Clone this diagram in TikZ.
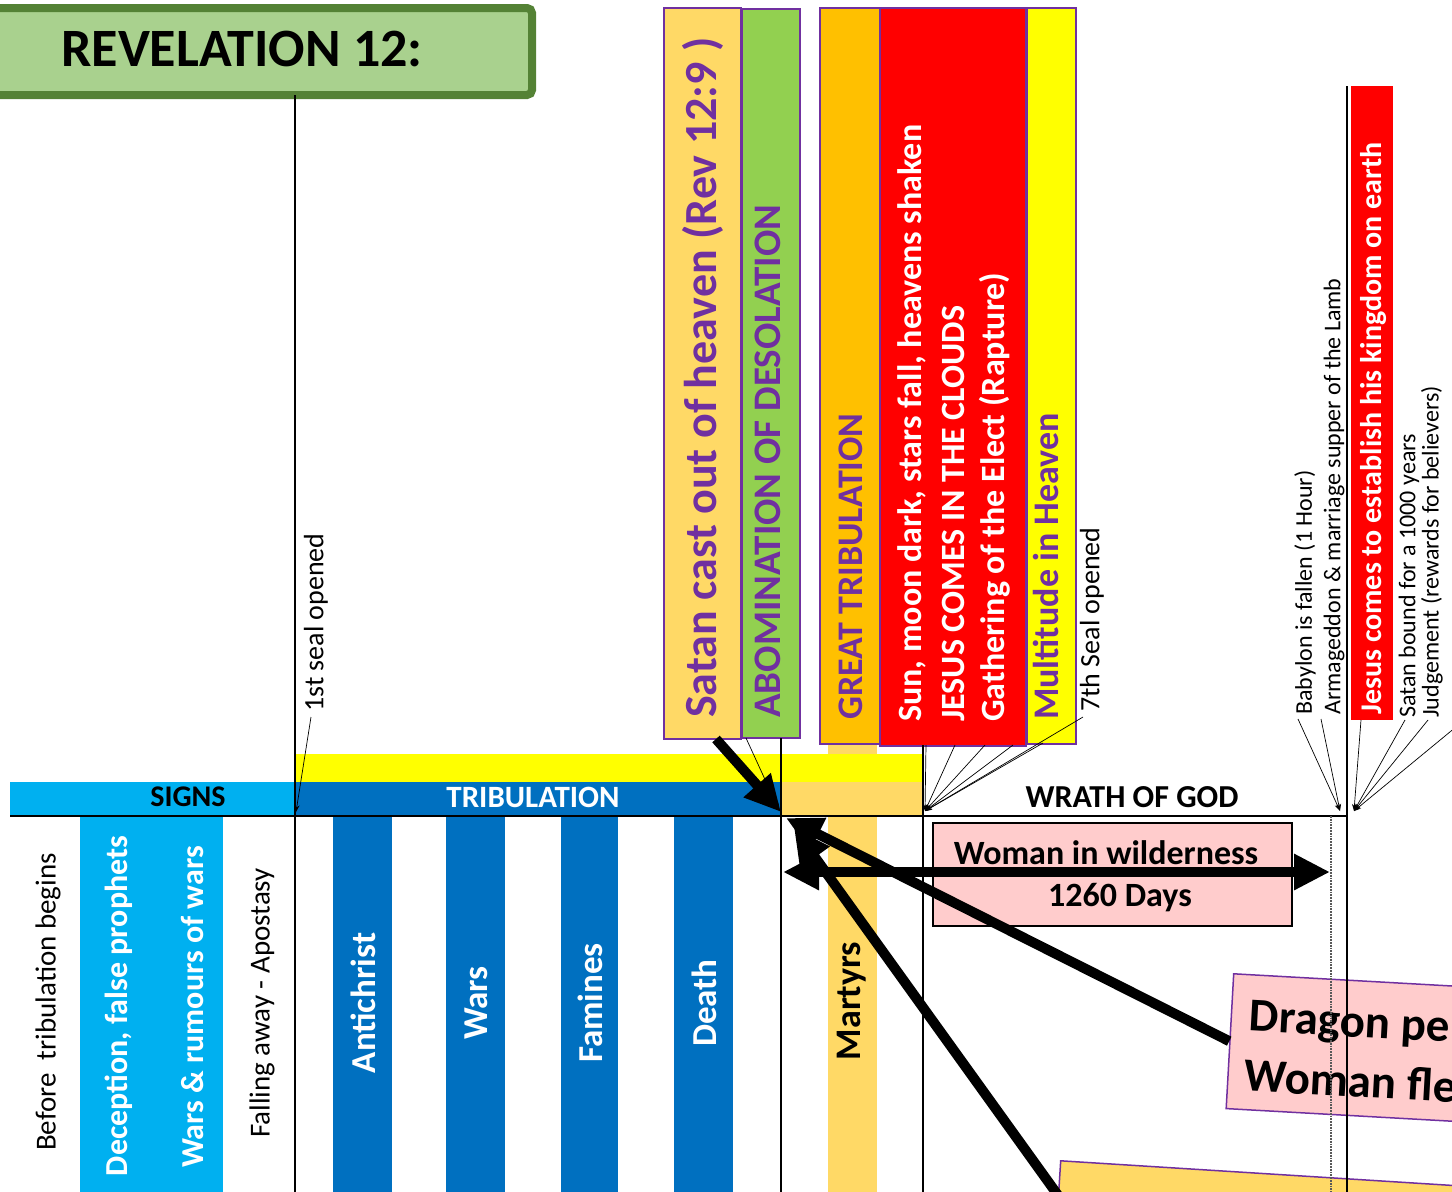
\documentclass[tikz,border=0pt]{standalone}
\usepackage{fontspec}
\setmainfont{Carlito}
\usetikzlibrary{arrows.meta}
\definecolor{tgreen}{HTML}{A9D18E}
\definecolor{tgreenb}{HTML}{548235}
\definecolor{cyanb}{HTML}{00B0F0}
\definecolor{blueb}{HTML}{0070C0}
\definecolor{lorange}{HTML}{FFD966}
\definecolor{orangeb}{HTML}{FFC000}
\definecolor{greenb}{HTML}{92D050}
\definecolor{purp}{HTML}{7030A0}
\definecolor{redb}{HTML}{FF0000}
\definecolor{yellowb}{HTML}{FFFF00}
\definecolor{pinkb}{HTML}{FFCCCC}
\newcommand{\fsz}[1]{\fontsize{#1}{#1}\selectfont}
\tikzset{
  vtxt/.style={rotate=90, inner sep=0pt, anchor=west},
  ctxt/.style={rotate=90, inner sep=0pt},
  topbox/.style={draw=purp, line width=1.5pt, anchor=north west, inner sep=0pt},
  vline/.style={line width=1.8pt, black},
  fan/.style={line width=0.7pt, -{Stealth[length=7pt,width=5pt]}},
  bigarrow/.style={line width=10pt, -{Triangle[length=36pt,width=34pt]}},
  bigdbl/.style={line width=10pt, {Triangle[length=36pt,width=34pt]}-{Triangle[length=36pt,width=34pt]}},
}
\begin{document}
\begin{tikzpicture}[x=1pt,y=-1pt]
\useasboundingbox (0,0) rectangle (1452,1192);
% ---- fills
\fill[lorange] (828,743) rectangle (877,1192);
\fill[yellowb] (295,754) rectangle (923,782);
\fill[cyanb] (10,782) rectangle (295,816);
\fill[blueb] (295,782) rectangle (781,816);
\fill[lorange] (781,782) rectangle (923,816);
\fill[cyanb] (80,817) rectangle (223,1192);
\fill[blueb] (333,817) rectangle (392,1192);
\fill[blueb] (446,817) rectangle (505,1192);
\fill[blueb] (561,817) rectangle (618,1192);
\fill[blueb] (674,817) rectangle (733,1192);
% ---- title
\node[draw=tgreenb, fill=tgreen, line width=8pt, rounded corners=5pt, anchor=north west,
      minimum width=548pt, minimum height=87pt, inner sep=0pt] (titlebox) at (-20,4) {};
\node[font=\fsz{54}\bfseries, inner sep=0pt] (title) at (242,49) {REVELATION 12:};
% ---- top boxes
\node[topbox, fill=lorange, minimum width=77pt, minimum height=731pt] (satanbox) at (663,7) {};
\node[topbox, fill=greenb, minimum width=58pt, minimum height=729pt] (abombox) at (741,8) {};
\node[topbox, fill=orangeb, minimum width=60pt, minimum height=736pt] (greatbox) at (819,7) {};
\node[topbox, fill=redb, minimum width=146pt, minimum height=738pt] (sunbox) at (879,7) {};
\node[topbox, fill=yellowb, minimum width=49pt, minimum height=736pt] (multibox) at (1026,7) {};
\node[fill=redb, anchor=north west, inner sep=0pt, minimum width=42pt, minimum height=634pt] (jbox) at (1351,86) {};
% ---- pink wilderness box
\node[draw=black, fill=pinkb, line width=1.5pt, anchor=north west, inner sep=0pt,
      minimum width=359pt, minimum height=103pt] (wild) at (932,822) {};
% ---- dragon box (rotated)
\begin{scope}[shift={(1233,973)}, rotate=-3.2]
  \node[draw=purp, fill=pinkb, line width=1.5pt, anchor=north west, inner sep=0pt, transform shape,
        minimum width=330pt, minimum height=135pt] (dragonbox) at (0,0) {};
  \node[anchor=base west, inner sep=0pt, transform shape, font=\fsz{47}\bfseries] (dr1) at (19,57) {Dragon pe};
  \node[anchor=base west, inner sep=0pt, transform shape, font=\fsz{47}\bfseries] (dr2) at (17,117) {Woman fle};
\end{scope}
\begin{scope}[shift={(1060,1160)}, rotate=-3.6]
  \node[draw=purp, fill=lorange, line width=1.5pt, anchor=north west, inner sep=0pt, transform shape,
        minimum width=420pt, minimum height=100pt] (ybox) at (0,0) {};
\end{scope}
% ---- lines
\coordinate (v1t) at (295,95);   \coordinate (v1b) at (295,1192);
\coordinate (v2t) at (781,738);  \coordinate (v2b) at (781,1192);
\coordinate (v3t) at (923,745);  \coordinate (v3b) at (923,1192);
\coordinate (v4t) at (1347,86);  \coordinate (v4b) at (1347,1192);
\coordinate (ax1) at (10,816);   \coordinate (ax2) at (1347,816);
\coordinate (dt) at (1331,816);  \coordinate (db) at (1331,1192);
\draw[vline] (v1t) -- (v1b);
\draw[vline] (v2t) -- (v2b);
\draw[vline] (v3t) -- (v3b);
\draw[vline] (v4t) -- (v4b);
\draw[line width=2pt] (ax1) -- (ax2);
\draw[black!65, densely dotted, line width=1.8pt] (dt) -- (db);
% ---- bar texts
\node[font=\fsz{30}\bfseries, inner sep=0pt] (signs) at (188,797) {SIGNS};
\node[font=\fsz{31}\bfseries, text=white, inner sep=0pt] (trib) at (533,797) {TRIBULATION};
\node[font=\fsz{32}\bfseries, inner sep=0pt] (wrath) at (1132,797) {WRATH OF GOD};
% ---- bottom column texts
\node[ctxt, font=\fsz{29}] (before) at (48,1002) {Before~ tribulation begins};
\node[ctxt, font=\fsz{32}\bfseries, text=white] (decep) at (119,1006) {Deception, false prophets};
\node[ctxt, font=\fsz{32}\bfseries, text=white] (warsr) at (192,1007) {Wars \& rumours of wars};
\node[ctxt, font=\fsz{29}] (falling) at (262,1003) {Falling away - Apostasy};
\node[ctxt, font=\fsz{35}\bfseries, text=white] (antic) at (363,1003) {Antichrist};
\node[ctxt, font=\fsz{35}\bfseries, text=white] (wars) at (476,1003) {Wars};
\node[ctxt, font=\fsz{35}\bfseries, text=white] (famines) at (590,1003) {Famines};
\node[ctxt, font=\fsz{35}\bfseries, text=white] (death) at (704,1003) {Death};
\node[ctxt, font=\fsz{36}\bfseries] (martyrs) at (852,1001) {Martyrs};
% ---- top texts
\node[vtxt, font=\fsz{46}\bfseries, text=purp] (satan) at (703,718) {Satan cast out of heaven (Rev 12:9 )};
\node[vtxt, font=\fsz{39}\bfseries, text=purp] (abom) at (768,718) {ABOMINATION OF DESOLATION};
\node[vtxt, font=\fsz{36}\bfseries, text=purp] (great) at (851,720) {GREAT TRIBULATION};
\node[vtxt, font=\fsz{34}\bfseries, text=white] (sun) at (912,722) {Sun, moon dark, stars fall, heavens shaken};
\node[vtxt, font=\fsz{34}\bfseries, text=white] (jesus) at (953,722) {JESUS COMES IN THE CLOUDS};
\node[vtxt, font=\fsz{34}\bfseries, text=white] (gath) at (995,722) {Gathering of the Elect (Rapture)};
\node[vtxt, font=\fsz{36}\bfseries, text=purp] (multi) at (1046,720) {Multitude in Heaven};
\node[vtxt, font=\fsz{28}] (seventh) at (1092,712) {7th Seal opened};
\node[vtxt, font=\fsz{28}] (first) at (316,712) {1st seal opened};
\node[vtxt, font=\fsz{24}] (babylon) at (1305,715) {Babylon is fallen (1 Hour)};
\node[vtxt, font=\fsz{24}] (armag) at (1334,715) {Armageddon \& marriage supper of the Lamb};
\node[vtxt, font=\fsz{30}\bfseries, text=white] (jesusk) at (1374,715) {Jesus comes to establish his kingdom on earth};
\node[vtxt, font=\fsz{24}] (satanb) at (1409,718) {Satan bound for a 1000 years};
\node[vtxt, font=\fsz{24}] (judge) at (1432,718) {Judgement (rewards for believers)};
% ---- wilderness texts
\node[font=\fsz{34}\bfseries, anchor=base, inner sep=0pt] (woman) at (1106,864) {Woman in wilderness};
\node[font=\fsz{34}\bfseries, anchor=base, inner sep=0pt] (days) at (1120,906) {1260 Days};
% ---- fan lines
\coordinate (p1) at (296,812);
\coordinate (f1) at (311,717);
\draw[fan] (f1) -- (p1);
\coordinate (p781) at (779,810);
\coordinate (ab1) at (746,738);
\draw[fan] (ab1) -- (p781);
\coordinate (p923) at (925,811);
\coordinate (g1) at (926,745);
\coordinate (g2) at (955,745);
\coordinate (g3) at (985,745);
\coordinate (g4) at (1013,745);
\coordinate (g5) at (1043,743);
\coordinate (g6) at (1083,717);
\foreach \g in {g1,g2,g3,g4,g5,g6} \draw[fan] (\g) -- (p923);
\coordinate (pl) at (1340,811);
\coordinate (b1) at (1298,719);
\coordinate (b2) at (1321,719);
\draw[fan] (b1) -- (pl);
\draw[fan] (b2) -- (pl);
\coordinate (pr) at (1354,811);
\coordinate (r1) at (1361,720);
\coordinate (r2) at (1405,720);
\coordinate (r3) at (1428,720);
\coordinate (r4) at (1462,722);
\foreach \r in {r1,r2,r3,r4} \draw[fan] (\r) -- (pr);
% ---- thick arrows
\coordinate (sat0) at (716,739);
\coordinate (tipS) at (781,812);
\draw[bigarrow] (sat0) -- (tipS);
\coordinate (tipD) at (786,818);
\draw[bigarrow] (dragonbox.west) -- (tipD);
\coordinate (ystart) at (1070,1212);
\coordinate (tipY) at (794,828);
\draw[bigarrow] (ystart) -- (tipY);
\coordinate (wl) at (783,872);
\coordinate (wr) at (1330,872);
\draw[bigdbl] (wl) -- (wr);
\end{tikzpicture}
\end{document}
